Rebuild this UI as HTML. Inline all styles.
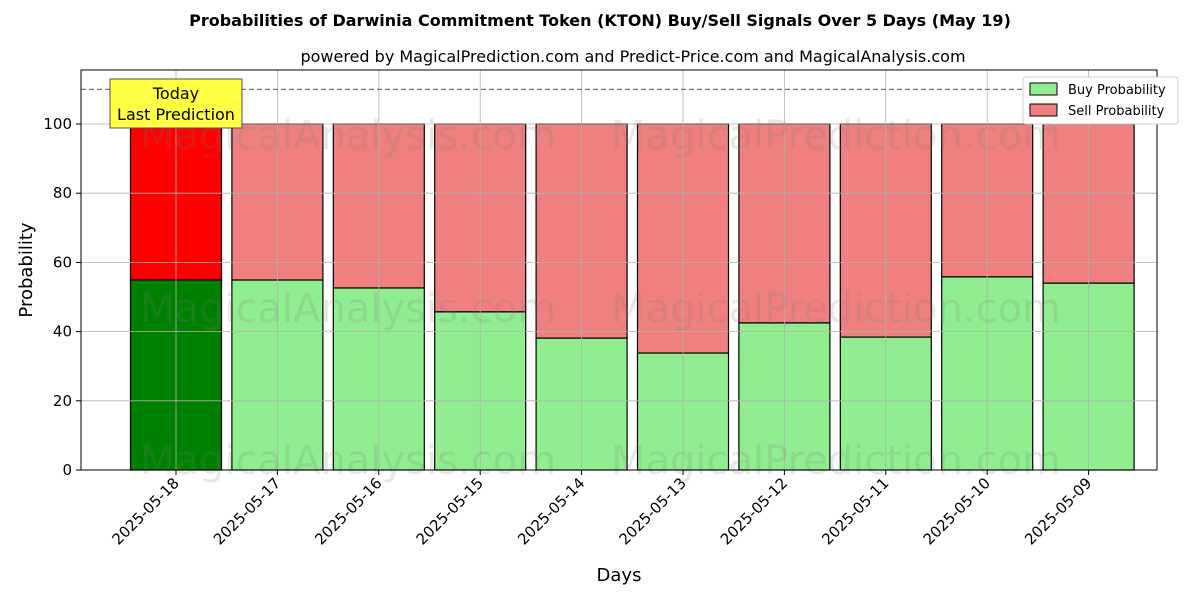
<!DOCTYPE html>
<html><head><meta charset="utf-8"><style>body{margin:0;background:#fff}svg{display:block;font-family:"DejaVu Sans","Liberation Sans",sans-serif}</style></head>
<body>
<svg id="c" width="1200" height="600"></svg>
<script>
const categories=["2025-05-18","2025-05-17","2025-05-16","2025-05-15","2025-05-14","2025-05-13","2025-05-12","2025-05-11","2025-05-10","2025-05-09"];
const buyValues=[54.9,54.9,52.6,45.7,38.1,33.8,42.5,38.4,55.8,54.0];
const sellValues=buyValues.map(v=>100-v);
const yTicks=[0,20,40,60,80,100];
const NS="http://www.w3.org/2000/svg";
const svg=document.getElementById('c');
const L=81,R=1157,T=70,B=470;
const y=v=>B-v*3.46;
const x=i=>176+i*101.4;
const bw=91;
function el(t,a,txt){const e=document.createElementNS(NS,t);for(const k in a)e.setAttribute(k,a[k]);if(txt!=null)e.textContent=txt;svg.appendChild(e);return e;}
let e;
e=el('text',{x:600,y:26,'text-anchor':'middle','font-size':16,'font-weight':'bold'},'Probabilities of Darwinia Commitment Token (KTON) Buy/Sell Signals Over 5 Days (May 19)');

e=el('text',{x:633,y:62,'text-anchor':'middle','font-size':16},'powered by MagicalPrediction.com and Predict-Price.com and MagicalAnalysis.com');

// bars
categories.forEach((c,i)=>{
  const cx=x(i);
  e=el('rect',{x:cx-bw/2,y:y(100),width:bw,height:y(buyValues[i])-y(100),fill:i==0?'#ff0000':'#f08080',stroke:'#000','stroke-width':1.2});
  
  e=el('rect',{x:cx-bw/2,y:y(buyValues[i]),width:bw,height:B-y(buyValues[i]),fill:i==0?'#008000':'#90ee90',stroke:'#000','stroke-width':1.2});
  
});
// grid
yTicks.forEach(v=>{
  e=el('line',{x1:L,x2:R,y1:y(v),y2:y(v),stroke:'#b0b0b0','stroke-width':0.8});
  
  e=el('line',{x1:L-5,x2:L,y1:y(v),y2:y(v),stroke:'#000'});
  
  e=el('text',{x:L-9,y:y(v)+5,'text-anchor':'end','font-size':15},String(v));
  
});
categories.forEach((c,i)=>{
  e=el('line',{x1:x(i),x2:x(i),y1:T,y2:B,stroke:'#b0b0b0','stroke-width':0.8});
  
  e=el('line',{x1:x(i),x2:x(i),y1:B,y2:B+5,stroke:'#000'});
  
  e=el('text',{x:x(i)+4,y:B+14,'text-anchor':'end','font-size':15,transform:`rotate(-45 ${x(i)+4} ${B+14})`},c);
  
});
// watermarks
[[y(100)+25],[y(50)+25],[y(6)+25]].forEach(([wy])=>{
  e=el('text',{x:348,y:wy,'text-anchor':'middle','font-size':40,fill:'rgba(120,120,120,0.18)'},'MagicalAnalysis.com');
  
  e=el('text',{x:836,y:wy,'text-anchor':'middle','font-size':40,fill:'rgba(120,120,120,0.18)'},'MagicalPrediction.com');
  
});
e=el('line',{x1:L,x2:R,y1:y(110),y2:y(110),stroke:'#777','stroke-width':1.2,'stroke-dasharray':'5,3'});

e=el('rect',{x:L,y:T,width:R-L,height:B-T,fill:'none',stroke:'#000','stroke-width':1});

// annotation
e=el('rect',{x:110,y:79,width:132,height:49,fill:'#ffff44',stroke:'#555'});

e=el('text',{x:176,y:99,'text-anchor':'middle','font-size':16},'Today');

e=el('text',{x:176,y:120,'text-anchor':'middle','font-size':16},'Last Prediction');

// legend
e=el('rect',{x:1023,y:77,width:155,height:47,fill:'#fff',stroke:'#ccc',rx:3});

e=el('rect',{x:1030,y:83,width:27,height:12,fill:'#90ee90',stroke:'#000'});

e=el('text',{x:1068,y:94,'font-size':13},'Buy Probability');

e=el('rect',{x:1030,y:104,width:27,height:12,fill:'#f08080',stroke:'#000'});

e=el('text',{x:1068,y:115,'font-size':13},'Sell Probability');

// axis titles
e=el('text',{x:619,y:581,'text-anchor':'middle','font-size':18},'Days');

e=el('text',{x:32,y:270,'text-anchor':'middle','font-size':18,transform:'rotate(-90 32 270)'},'Probability');

</script>
</body></html>
